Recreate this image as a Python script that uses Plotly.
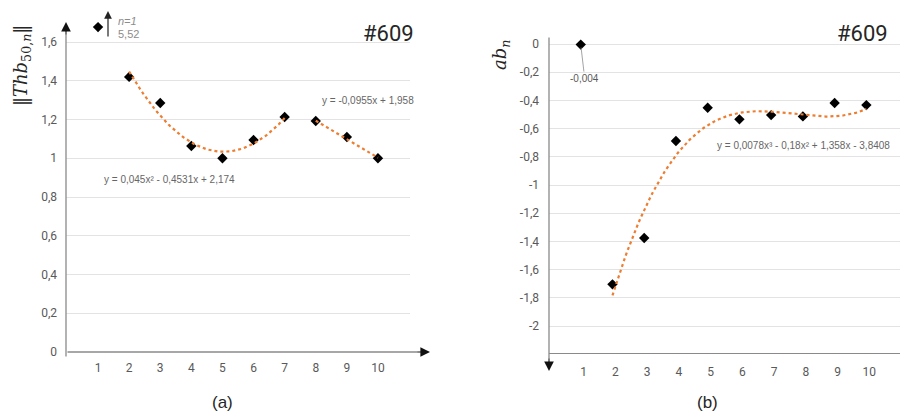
import numpy as np
import plotly.graph_objects as go

W, H = 900, 415

# ---------------- data ----------------
n = list(range(1, 11))
thb = [5.52, 1.42, 1.285, 1.063, 1.0, 1.094, 1.213, 1.192, 1.11, 1.0]
ab = [-0.004, -1.704, -1.376, -0.688, -0.452, -0.534, -0.504, -0.513, -0.418, -0.433]
thb_break = 1.677          # where the off-scale value (n=1) is drawn
quad_coef = [0.045, -0.4531, 2.174]          # trend n=2..7
lin_coef = [-0.0955, 1.958]                  # trend n=8..10
cubic_coef = [0.0078, -0.18, 1.358, -3.8408]  # trend n=2..10
yticks_a = [0, 0.2, 0.4, 0.6, 0.8, 1.0, 1.2, 1.4, 1.6]
yticks_b = [0, -0.2, -0.4, -0.6, -0.8, -1.0, -1.2, -1.4, -1.6, -1.8, -2.0]
eq_a1 = "y = 0,045x² - 0,4531x + 2,174"
eq_a2 = "y = -0,0955x + 1,958"
eq_b = "y = 0,0078x³ - 0,18x² + 1,358x - 3,8408"


def fmt(v):
    s = ("%g" % round(v, 1)).replace(".", ",")
    return "0" if s in ("0", "-0") else s


def px(x):
    return x / W


def py(y):
    return 1 - y / H


GREY = "#595959"
AXC = "#8a8a8a"
GRID = "#e3e3e3"
ORANGE = "#ED7D31"
TICKFONT = dict(family="Roboto, Arial, sans-serif", size=12, color=GREY)
MARK = dict(symbol="diamond", size=8, color="black")
TREND = dict(color=ORANGE, width=2.2, dash="dot")

fig = go.Figure()

# ---- panel (a) ----
thb_disp = [min(v, thb_break) for v in thb]
fig.add_trace(go.Scatter(x=n, y=thb_disp, mode="markers", xaxis="x", yaxis="y",
                         marker=MARK, cliponaxis=False, showlegend=False))
xq = np.linspace(2, 7, 80)
fig.add_trace(go.Scatter(x=xq, y=np.polyval(quad_coef, xq), mode="lines", xaxis="x", yaxis="y",
                         line=TREND, showlegend=False))
xl = np.linspace(8, 10, 20)
fig.add_trace(go.Scatter(x=xl, y=np.polyval(lin_coef, xl), mode="lines", xaxis="x", yaxis="y",
                         line=TREND, showlegend=False))

# ---- panel (b) ----
fig.add_trace(go.Scatter(x=n, y=ab, mode="markers", xaxis="x2", yaxis="y2",
                         marker=MARK, cliponaxis=False, showlegend=False))
xc = np.linspace(2, 10, 120)
fig.add_trace(go.Scatter(x=xc, y=np.polyval(cubic_coef, xc), mode="lines", xaxis="x2", yaxis="y2",
                         line=TREND, showlegend=False))

fig.update_layout(
    width=W, height=H, autosize=False,
    margin=dict(l=0, r=0, t=0, b=0, pad=0, autoexpand=False),
    paper_bgcolor="white", plot_bgcolor="white",
    xaxis=dict(domain=[px(66), px(410)], range=[-0.03, 11.03], anchor="y",
               tickvals=n, ticktext=[str(i) for i in n], showgrid=False, zeroline=False,
               showline=False, tickfont=TICKFONT, ticklabelstandoff=7),
    yaxis=dict(domain=[py(352), py(24)], range=[0, 1.693], anchor="x",
               tickvals=yticks_a, ticktext=[fmt(v) for v in yticks_a], showgrid=True,
               gridcolor=GRID, gridwidth=1, zeroline=False, showline=False,
               tickfont=TICKFONT, ticklabelstandoff=8),
    xaxis2=dict(domain=[px(549), 1.0], range=[0, 11.06], anchor="y2",
                tickvals=n, ticktext=[str(i) for i in n], showgrid=False, zeroline=False,
                showline=True, linecolor=AXC, linewidth=1.3, tickfont=TICKFONT,
                ticklabelstandoff=7, ticklabelshift=3),
    yaxis2=dict(domain=[py(353), py(36)], range=[-2.191, 0.057], anchor="x2",
                tickvals=yticks_b, ticktext=[fmt(v) for v in yticks_b], showgrid=True,
                gridcolor=GRID, gridwidth=1, zeroline=False, showline=False,
                tickfont=TICKFONT, ticklabelstandoff=9),
)

ann = []


def seg(x0, y0, x1, y1, head=0, color=AXC, width=1.3, size=1.0):
    # tail at (x0,y0), tip at (x1,y1) in pixels
    ann.append(dict(x=px(x1), y=py(y1), xref="paper", yref="paper", text="",
                    showarrow=True, ax=x0 - x1, ay=y0 - y1, axref="pixel", ayref="pixel",
                    arrowhead=head, arrowsize=size, arrowwidth=width, arrowcolor=color,
                    standoff=0, startstandoff=0))


def axis_arrow(x0, y0, x1, y1):
    L = ((x1 - x0) ** 2 + (y1 - y0) ** 2) ** 0.5
    ux, uy = (x1 - x0) / L, (y1 - y0) / L
    seg(x1 - 14 * ux, y1 - 14 * uy, x1, y1, head=2, color="#111111", width=1.2, size=1.6)
    seg(x0, y0, x1 - 10 * ux, y1 - 10 * uy)


def text(x, y, t, size=12, color=GREY, family="Roboto, Arial, sans-serif", xanchor="center",
         angle=0):
    ann.append(dict(x=px(x), y=py(y), xref="paper", yref="paper", text=t, showarrow=False,
                    font=dict(size=size, color=color, family=family), xanchor=xanchor,
                    yanchor="middle", textangle=angle))


EQFONT = "Liberation Sans, Arial, sans-serif"

# axes with arrows
axis_arrow(66, 358, 66, 22)           # (a) y axis
axis_arrow(66, 352, 430, 352)         # (a) x axis
axis_arrow(549, 36, 549, 371)         # (b) y axis, pointing down
# n=1 off-scale marker
seg(108, 38, 108, 11, head=2, color="#222222", width=1.2, size=1.3)
text(116, 21, "<i>n=1</i>", size=11, color="#8c8c8c", xanchor="left", family=EQFONT)
text(116, 34, "5,52", size=11, color="#8c8c8c", xanchor="left", family=EQFONT)

# -0,004 label with leader line
ann.append(dict(x=1, y=ab[0], xref="x2", yref="y2", text="-0,004", showarrow=True,
                ax=4, ay=34, arrowhead=0, arrowwidth=0.8, arrowcolor="#8c8c8c",
                font=dict(size=10, color=GREY, family=EQFONT),
                standoff=3))

# equations
text(102, 179, eq_a1, size=10, color="#666666", xanchor="left", family=EQFONT)
text(320, 101, eq_a2, size=10, color="#666666", xanchor="left", family=EQFONT)
text(715, 145, eq_b, size=10, color="#666666", xanchor="left", family=EQFONT)

# titles
text(388, 33, "#609", size=22, color="#262626")
text(862, 33, "#609", size=22, color="#262626")

# y-axis titles
text(22, 66, "‖<i>Thb</i><sub>50,<i>n</i></sub>‖", size=18, color="#262626",
     family="DejaVu Serif, serif", angle=-90)
text(501, 55, "<i>ab</i><sub><i>n</i></sub>", size=18, color="#262626",
     family="DejaVu Serif, serif", angle=-90)

# panel labels
text(222, 402, "(a)", size=17, color="#262626", family=EQFONT)
text(707, 402, "(b)", size=17, color="#262626", family=EQFONT)

fig.update_layout(annotations=ann)

post = ("document.body.style.margin='0';document.body.style.padding='0';"
        "document.body.style.overflow='hidden';")
fig.write_html("out.html", post_script=post, config={"displayModeBar": False})
